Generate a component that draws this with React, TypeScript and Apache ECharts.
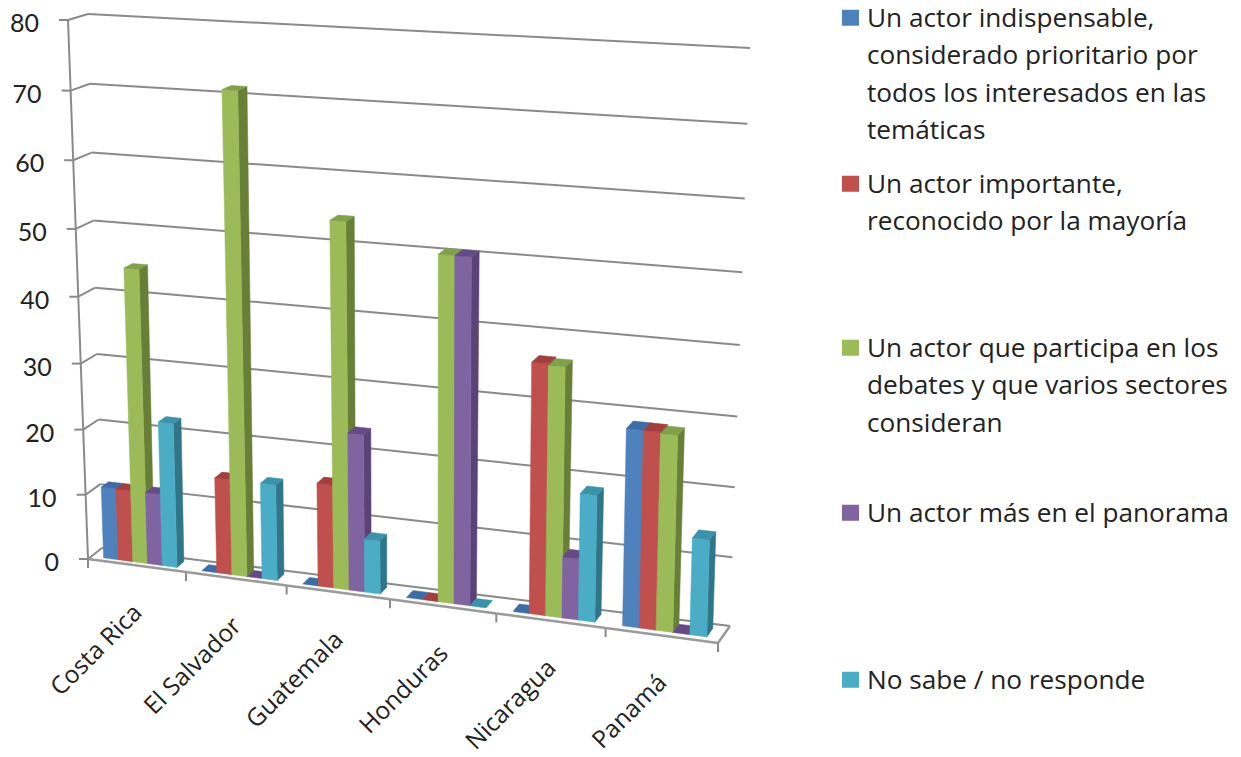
import React, { useEffect, useRef } from "react";
import * as echarts from "echarts";

const categories = ["Costa Rica", "El Salvador", "Guatemala", "Honduras", "Nicaragua", "Panamá"];
const valueTicks = [0, 10, 20, 30, 40, 50, 60, 70, 80];

const indispensable = [11, 0, 0, 0, 0, 28.5];
const importante = [11, 14.5, 15.5, 0, 36.5, 28.5];
const participa = [44.5, 71.3, 54, 50.5, 36.3, 28.3];
const panorama = [11, 0, 23.5, 50.5, 9, 0];
const noSabe = [22, 14.5, 8, 0, 18.5, 14];

const seriesNames = [
  "Un actor indispensable,\nconsiderado prioritario por\ntodos los interesados en las\ntemáticas",
  "Un actor importante,\nreconocido por la mayoría",
  "Un actor que participa en los\ndebates y que varios sectores\nconsideran",
  "Un actor más en el panorama",
  "No sabe / no responde",
];
const seriesValues = [indispensable, importante, participa, panorama, noSabe];

// Box faces of the 3D plot: [value 0 left, value 0 right, top left, top right].
type Pt = [number, number];
const FRONT: Pt[] = [[88, 559], [718, 643], [68, 20], [734, 60]];
const BACK: Pt[] = [[102, 548], [730, 626], [88, 14], [750, 48]];

const FACES = [
  { front: "#4f81bd", side: "#385d8a", top: "#3d6ca6" },
  { front: "#c0504d", side: "#8c3836", top: "#a03f3d" },
  { front: "#9bbb59", side: "#677f36", top: "#80a04a" },
  { front: "#8064a2", side: "#5b4378", top: "#654a85" },
  { front: "#4bacc6", side: "#317589", top: "#3b93ab" },
];

const AXIS_FONT = "Lato";
const LABEL_FONT = "Open Sans";
const TEXT = "#222222";
const LINE = "#8a8a8a";
const LEGEND_TOPS = [-2, 164, 328, 493, 660];
const LINE_HEIGHT = 37.5;

// Unit square to quadrilateral projective map.
function homography(q: Pt[]) {
  const [p00, p10, p01, p11] = q;
  const dx1 = p10[0] - p11[0], dx2 = p01[0] - p11[0], sx = p00[0] - p10[0] + p11[0] - p01[0];
  const dy1 = p10[1] - p11[1], dy2 = p01[1] - p11[1], sy = p00[1] - p10[1] + p11[1] - p01[1];
  const den = dx1 * dy2 - dx2 * dy1;
  const g = (sx * dy2 - dx2 * sy) / den;
  const h = (dx1 * sy - sx * dy1) / den;
  const a = p10[0] - p00[0] + g * p10[0], b = p01[0] - p00[0] + h * p01[0], c = p00[0];
  const d = p10[1] - p00[1] + g * p10[1], e = p01[1] - p00[1] + h * p01[1], f = p00[1];
  return (s: number, t: number): Pt => {
    const w = g * s + h * t + 1;
    return [(a * s + b * t + c) / w, (d * s + e * t + f) / w];
  };
}
const frontFace = homography(FRONT);
const backFace = homography(BACK);

// s along the categories, t up the value scale, z from front (0) to back (1).
function project(s: number, t: number, z: number): Pt {
  const f = frontFace(s, t);
  const b = backFace(s, t);
  return [f[0] + (b[0] - f[0]) * z, f[1] + (b[1] - f[1]) * z];
}

const BAR_START = 0.125;
const BAR_WIDTH = 0.15;
const Z0 = 0.25;
const Z1 = 0.75;

function toUnit(params: any, api: any, cat: number, value: number) {
  const cs = params.coordSys;
  const [px, py] = api.coord([cat, value]);
  return {
    s: (px - cs.x) / cs.width,
    t: (cs.y + cs.height - py) / cs.height,
    band: api.size([1, 0])[0] / cs.width,
  };
}

function poly(points: Pt[], fill: string) {
  return {
    type: "polygon",
    shape: { points },
    style: { fill, stroke: fill, lineWidth: 0.5 },
  };
}

function segment(a: Pt, b: Pt, width = 2, stroke = LINE) {
  return {
    type: "line",
    shape: { x1: a[0], y1: a[1], x2: b[0], y2: b[1] },
    style: { stroke, lineWidth: width, fill: "none" },
  };
}

function renderBar(k: number) {
  return (params: any, api: any) => {
    const { s, t, band } = toUnit(params, api, api.value(0), api.value(1));
    const s0 = s - band / 2 + band * (BAR_START + k * BAR_WIDTH);
    const s1 = s0 + band * BAR_WIDTH;
    const c = FACES[k];
    const children: any[] = [];
    if (t > 0) {
      children.push(
        poly([project(s1, 0, Z0), project(s1, 0, Z1), project(s1, t, Z1), project(s1, t, Z0)], c.side),
        poly([project(s0, 0, Z0), project(s1, 0, Z0), project(s1, t, Z0), project(s0, t, Z0)], c.front)
      );
    }
    children.push(poly([project(s0, t, Z0), project(s1, t, Z0), project(s1, t, Z1), project(s0, t, Z1)], c.top));
    return { type: "group", children };
  };
}

// One gridline per tick: along the side wall, then across the back wall, with its tick and label.
function renderGridline(params: any, api: any) {
  const value = api.value(1);
  const { t } = toUnit(params, api, 0, value);
  const a = project(0, t, 0);
  const b = project(0, t, 1);
  const c = project(1, t, 1);
  const children: any[] = [segment([a[0] - 9, a[1]], a), segment(a, b)];
  if (value > 0) children.push(segment(b, c));
  children.push({
    type: "text",
    x: a[0] - 29,
    y: a[1] + 2,
    style: {
      text: String(value),
      textAlign: "right",
      textVerticalAlign: "middle",
      fontFamily: AXIS_FONT,
      fontSize: 25,
      fill: TEXT,
    },
  });
  return { type: "group", children };
}

// Floor outline, value axis and one tick per category boundary with its rotated label.
function renderFloor(params: any, api: any) {
  const i = api.value(0);
  const { s, band } = toUnit(params, api, i, 0);
  const left = s - band / 2;
  const right = s + band / 2;
  const p0 = project(left, 0, 0);
  const p1 = project(right, 0, 0);
  const mid = project(s, 0, 0);
  const children: any[] = [
    segment(p0, p1, 2.5, "#9a9a9a"),
    segment(project(left, 0, 1), project(right, 0, 1)),
    segment(p1, [p1[0], p1[1] + 9]),
    {
      type: "text",
      x: mid[0],
      y: mid[1] + 42,
      rotation: Math.PI / 4,
      style: {
        text: categories[i],
        textAlign: "right",
        textVerticalAlign: "middle",
        fontFamily: LABEL_FONT,
        fontSize: 24.5,
        fill: TEXT,
      },
    },
  ];
  if (i === 0) {
    children.push(segment(p0, [p0[0], p0[1] + 9]), segment(project(0, 0, 0), project(0, 1, 0)));
  }
  if (i === categories.length - 1) {
    children.push(segment(p1, project(1, 0, 1), 2.5, "#9a9a9a"));
  }
  return { type: "group", children };
}

function legendIcon(lines: number) {
  const h = lines * LINE_HEIGHT;
  const top = LINE_HEIGHT / 2 - 7;
  // The invisible corners stretch the icon box over the whole text block, keeping the swatch on line one.
  return `path://M0 0H0.01V0.01H0Z M20 ${h}H19.99V${h - 0.01}H20Z M0 ${top}H17V${top + 16}H0Z`;
}

export default function App() {
  const ref = useRef<HTMLDivElement>(null);

  useEffect(() => {
    document.body.style.margin = "0";
    const chart = echarts.init(ref.current!, undefined, { renderer: "svg" });
    chart.setOption({
      animation: false,
      backgroundColor: "#ffffff",
      grid: { left: 88, top: 20, width: 630, height: 540 },
      xAxis: { type: "category", data: categories, show: false },
      yAxis: { type: "value", min: 0, max: 80, interval: 10, show: false },
      legend: seriesNames.map((name, k) => {
        const lines = name.split("\n").length;
        return {
          left: 842,
          top: LEGEND_TOPS[k],
          padding: 0,
          orient: "vertical",
          selectedMode: false,
          itemWidth: 20,
          itemHeight: lines * LINE_HEIGHT,
          symbolKeepAspect: false,
          data: [{ name, icon: legendIcon(lines) }],
          textStyle: { fontFamily: LABEL_FONT, fontSize: 26.2, lineHeight: LINE_HEIGHT, color: TEXT },
        };
      }),
      series: [
        {
          type: "custom",
          name: "Escala",
          renderItem: renderGridline,
          data: valueTicks.map((v) => [0, v]),
          encode: { x: 0, y: 1 },
          silent: true,
        },
        {
          type: "custom",
          name: "Piso",
          renderItem: renderFloor,
          data: categories.map((_, i) => [i, 0]),
          encode: { x: 0, y: 1 },
          silent: true,
        },
        ...seriesNames.map((name, k) => ({
          type: "custom",
          name,
          renderItem: renderBar(k),
          itemStyle: { color: FACES[k].front },
          data: seriesValues[k].map((v, i) => [i, v]),
          encode: { x: 0, y: 1 },
        })),
      ],
    });
    return () => chart.dispose();
  }, []);

  return <div ref={ref} style={{ width: 1241, height: 757 }} />;
}
